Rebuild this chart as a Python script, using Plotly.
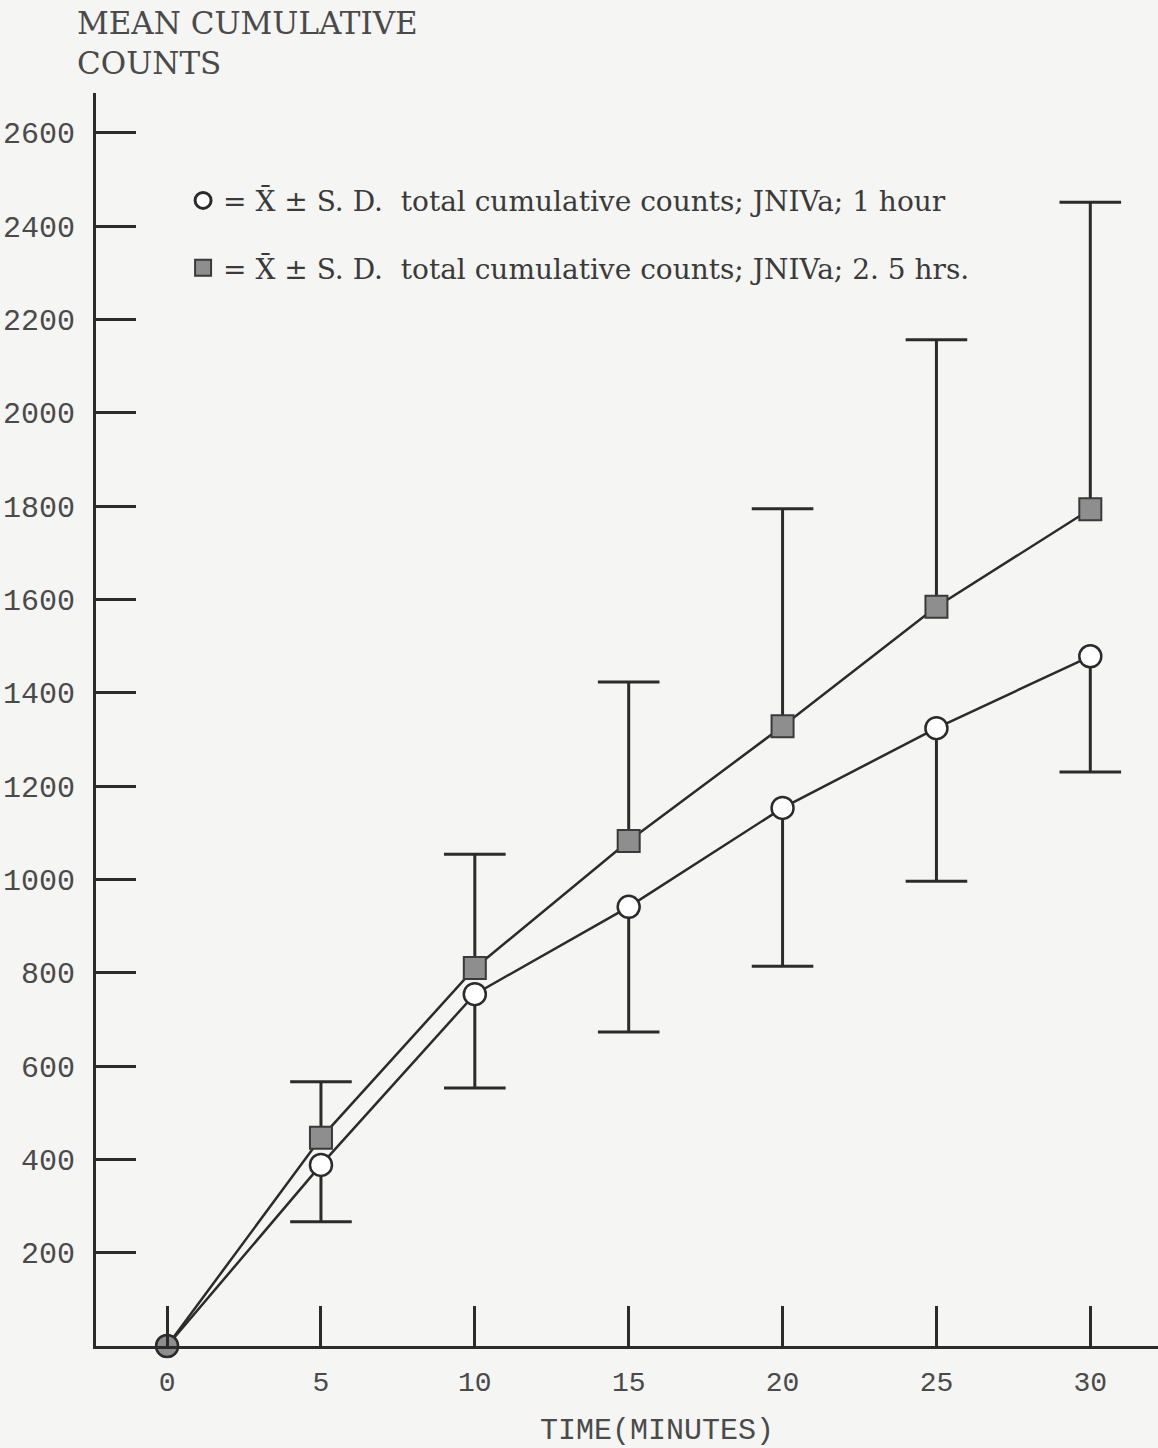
import plotly.graph_objects as go

# ---- data ----
time_min = [0, 5, 10, 15, 20, 25, 30]
mean_1h = [0, 388, 754, 941, 1153, 1324, 1478]
sd_1h = [0, 122, 201, 268, 339, 328, 248]
mean_25h = [0, 446, 810, 1082, 1328, 1584, 1793]
sd_25h = [0, 120, 244, 341, 466, 572, 658]
y_ticks = [200, 400, 600, 800, 1000, 1200, 1400, 1600, 1800, 2000, 2200, 2400, 2600]
x_ticks = [0, 5, 10, 15, 20, 25, 30]
label_1h = "= X\u0304 \u00b1 S. D.  total cumulative counts; JNIVa; 1 hour"
label_25h = "= X\u0304 \u00b1 S. D.  total cumulative counts; JNIVa; 2. 5 hrs."

INK = "#2b2b2b"
TXT = "#4a4a4a"
BG = "#f5f5f3"
GREY = "#8e8e8e"

fig = go.Figure()

# error bar stems & caps (1 hour: downward; 2.5 hrs: upward)
def stems(xs, ys, ends):
    sx, sy = [], []
    for x, y, e in zip(xs, ys, ends):
        if x == 0:
            continue
        sx += [x, x, None]
        sy += [y, e, None]
    return sx, sy

low_1h = [m - s for m, s in zip(mean_1h, sd_1h)]
up_25h = [m + s for m, s in zip(mean_25h, sd_25h)]

for ends, means in ((low_1h, mean_1h), (up_25h, mean_25h)):
    sx, sy = stems(time_min, means, ends)
    fig.add_trace(go.Scatter(x=sx, y=sy, mode="lines", line=dict(color=INK, width=3),
                             showlegend=False, hoverinfo="skip", cliponaxis=False))
    fig.add_trace(go.Scatter(x=time_min[1:], y=ends[1:], mode="markers",
                             marker=dict(symbol="line-ew", size=44, line=dict(color=INK, width=3)),
                             showlegend=False, hoverinfo="skip", cliponaxis=False))

# series lines with markers
sym_25 = ["circle"] + ["square"] * (len(time_min) - 1)
fig.add_trace(go.Scatter(x=time_min, y=mean_25h, mode="lines+markers",
                         line=dict(color=INK, width=2.5),
                         marker=dict(symbol=sym_25, size=22, color=GREY,
                                     line=dict(color="#3a3a3a", width=2)),
                         showlegend=False, cliponaxis=False))
col_1h = [GREY] + ["white"] * (len(time_min) - 1)
fig.add_trace(go.Scatter(x=time_min, y=mean_1h, mode="lines+markers",
                         line=dict(color=INK, width=2.5),
                         marker=dict(symbol="circle", size=22, color=col_1h,
                                     line=dict(color=INK, width=2.5)),
                         showlegend=False, cliponaxis=False))

# legend entries
fig.add_trace(go.Scatter(x=[None], y=[None], mode="markers", name=label_1h, legendgroup="a",
                         marker=dict(symbol="circle", size=20, color="white",
                                     line=dict(color=INK, width=3))))
fig.add_trace(go.Scatter(x=[None], y=[None], mode="markers", name=label_25h, legendgroup="b",
                         marker=dict(symbol="square", size=18, color=GREY,
                                     line=dict(color="#3a3a3a", width=2))))

fig.update_layout(
    width=1158, height=1448,
    margin=dict(l=96, r=0, t=93, b=102),
    paper_bgcolor=BG, plot_bgcolor=BG,
    font=dict(family="Liberation Mono", color=TXT),
    showlegend=True,
    legend=dict(x=0.082, y=0.934, xanchor="left", yanchor="top",
                bgcolor="rgba(0,0,0,0)", tracegroupgap=28,
                font=dict(family="DejaVu Serif", size=28, color="#3a3a3a"),
                itemsizing="trace"),
    xaxis=dict(range=[-2.31, 32.2], tickvals=x_ticks, ticktext=[str(v) for v in x_ticks],
               showgrid=False, zeroline=False, showline=True, linecolor=INK, linewidth=3,
               ticks="inside", ticklen=40, tickwidth=3, tickcolor=INK,
               tickfont=dict(family="Liberation Mono", size=28, color=TXT),
               ticklabelstandoff=8),
    yaxis=dict(range=[0, 2685], tickvals=y_ticks, ticktext=[str(v) for v in y_ticks],
               showgrid=False, zeroline=False, showline=True, linecolor=INK, linewidth=3,
               ticks="inside", ticklen=40, tickwidth=3, tickcolor=INK,
               tickfont=dict(family="Liberation Mono", size=30, color=TXT),
               ticklabelstandoff=12),
    annotations=[
        dict(text="MEAN CUMULATIVE<br>COUNTS", xref="paper", yref="paper",
             x=-0.02, y=1.0, yshift=90, xanchor="left", yanchor="top", showarrow=False,
             align="left", font=dict(family="DejaVu Serif", size=31, color=TXT)),
        dict(text="TIME(MINUTES)", xref="paper", yref="paper",
             x=0.528, y=0, yshift=-66, xanchor="center", yanchor="top", showarrow=False,
             font=dict(family="Liberation Mono", size=30, color=TXT)),
    ],
)

fig.write_html("out.html")
